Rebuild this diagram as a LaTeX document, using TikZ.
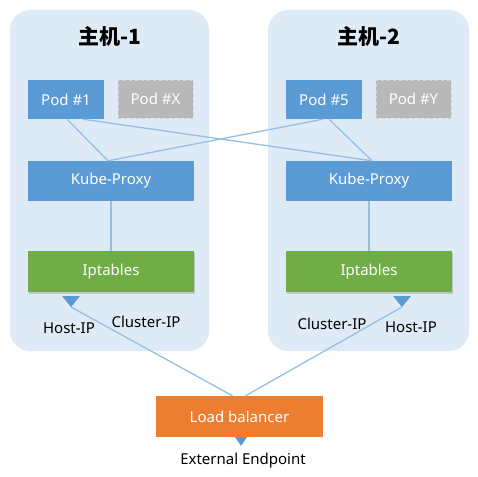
\documentclass[tikz,border=0pt]{standalone}
\usepackage{fontspec}
\setmainfont{Noto Sans}
\newfontfamily\cjk{Noto Sans CJK SC}
\usetikzlibrary{shadows}
\definecolor{hostbg}{RGB}{222, 235, 247}
\definecolor{podblue}{RGB}{91, 155, 213}
\definecolor{podidle}{RGB}{184, 184, 184}
\definecolor{iptgreen}{RGB}{112, 173, 71}
\definecolor{lborange}{RGB}{237, 125, 49}
\definecolor{wire}{RGB}{150, 190, 228}

\begin{document}
\begin{tikzpicture}[x=1pt, y=-1pt,
		box/.style={minimum height=39pt, inner sep=0pt, text=white, font=\fontsize{15}{17}\selectfont},
		pod/.style={box, fill=podblue, minimum width=76pt},
		idle/.style={box, fill=podidle, draw=podidle!60, dashed, minimum width=75pt, minimum height=38pt},
		proxy/.style={box, fill=podblue, minimum width=166pt, minimum height=40pt},
		ipt/.style={box, fill=iptgreen, minimum width=166pt, minimum height=41pt, drop shadow={opacity=0.35, shadow xshift=1pt, shadow yshift=-2pt}},
		wireline/.style={draw=wire, line width=1.3pt},
		marker/.style={fill=podblue},
		lbl/.style={font=\fontsize{15}{17}\selectfont}]
	\useasboundingbox (0,0) rectangle (478,476);
	\fill [hostbg, rounded corners=20pt] (10, 10) rectangle (209, 351);
	\fill [hostbg, rounded corners=20pt] (268, 10) rectangle (469, 351);
	\node (host1) at (110, 36) {\cjk\bfseries\fontsize{21}{24}\selectfont 主机-1};
	\node (host2) at (369, 36) {\cjk\bfseries\fontsize{21}{24}\selectfont 主机-2};

	\node [pod] (pod1) at (66, 99.5) {Pod \#1};
	\node [idle] (podx) at (155.5, 99) {Pod \#X};
	\node [pod] (pod5) at (324, 99.5) {Pod \#5};
	\node [idle] (pody) at (413.5, 99) {Pod \#Y};
	\node [proxy] (kp1) at (111, 181) {Kube-Proxy};
	\node [proxy] (kp2) at (369, 181) {Kube-Proxy};
	\node [ipt] (ipt1) at (111, 271.5) {Iptables};
	\node [ipt] (ipt2) at (369, 271.5) {Iptables};
	\node [box, fill=lborange, minimum width=167pt, minimum height=41pt] (lb) at (239.5, 416.5) {Load balancer};

	\draw [wireline] ([xshift=1pt]pod1.south) -- ([xshift=-3pt]kp1.north);
	\draw [wireline] ([xshift=17pt]pod1.south) -- ([xshift=3pt]kp2.north);
	\draw [wireline] ([xshift=-1pt]pod5.south) -- ([xshift=-3pt]kp1.north);
	\draw [wireline] ([xshift=5pt]pod5.south) -- ([xshift=3pt]kp2.north);
	\draw [wireline] (kp1.south) -- (ipt1.north);
	\draw [wireline] (kp2.south) -- (ipt2.north);

	\coordinate (tip1) at (71, 307);
	\coordinate (tip2) at (402, 307);
	\coordinate (tip3) at (241, 446);
	\draw [wireline] (tip1) -- ([xshift=-7pt]lb.north);
	\draw [wireline] (tip2) -- ([xshift=6pt]lb.north);
	\fill [marker] (tip1) -- ++(-9, -11) -- ++(18, 0) -- cycle;
	\fill [marker] (tip2) -- ++(-9, -11) -- ++(18, 0) -- cycle;
	\fill [marker] (tip3) -- ++(-6, -9) -- ++(12, 0) -- cycle;

	\node [lbl] (hostip1) at (69, 328) {Host-IP};
	\node [lbl] (clusterip1) at (146, 322) {Cluster-IP};
	\node [lbl] (clusterip2) at (332, 324) {Cluster-IP};
	\node [lbl] (hostip2) at (411, 327) {Host-IP};
	\node [lbl] (endpoint) at (243, 461) {External Endpoint};
\end{tikzpicture}
\end{document}
